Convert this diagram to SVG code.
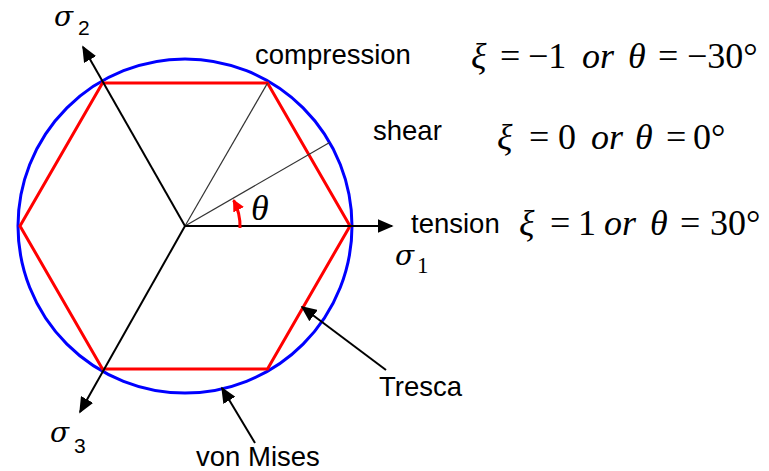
<svg xmlns="http://www.w3.org/2000/svg" width="769" height="471" viewBox="0 0 769 471">
<style>
.lbl{font-family:"Liberation Sans",Arial,sans-serif;font-size:27.5px;fill:#000}
.m{font-family:"Liberation Serif","Times New Roman",serif;font-size:36px;fill:#000}
.i{font-style:italic}
.sig{font-family:"DejaVu Serif","Liberation Serif",serif;font-style:italic;font-size:28px;fill:#000}
.sub{font-family:"Liberation Sans",Arial,sans-serif;font-size:21px;fill:#000}
.subs{font-family:"Liberation Serif","Times New Roman",serif;font-size:23px;fill:#000}
.axis{stroke:#000;stroke-width:2;fill:none}
.thin{stroke:#333;stroke-width:1.2;fill:none}
</style>
<defs>
<marker id="ahb" viewBox="0 0 10 10" refX="9" refY="5" markerWidth="16" markerHeight="14" markerUnits="userSpaceOnUse" orient="auto" preserveAspectRatio="none">
<path d="M0,0 L10,5 L0,10 z" fill="#000"/>
</marker>
<marker id="ahr" viewBox="0 0 10 10" refX="9" refY="5" markerWidth="12" markerHeight="12" markerUnits="userSpaceOnUse" orient="auto">
<path d="M0,0 L10,5 L0,10 z" fill="#f00"/>
</marker>
</defs>
<g id="vonmises"><circle cx="185" cy="226" r="167" fill="none" stroke="#0000ff" stroke-width="3"/></g>
<g id="tresca"><polygon points="350,226 267.5,83.1 102.5,83.1 20,226 102.5,368.9 267.5,368.9" fill="none" stroke="#ff0000" stroke-width="3"/></g>
<g id="guides">
<line class="thin" x1="185" y1="226" x2="267.5" y2="83.1"/>
<line class="thin" x1="185" y1="226" x2="329.6" y2="142.5"/>
</g>
<g id="connectors">
<line class="axis" x1="185" y1="226" x2="392" y2="226" marker-end="url(#ahb)"/>
<line class="axis" x1="185" y1="226" x2="83" y2="47" marker-end="url(#ahb)"/>
<line class="axis" x1="185" y1="226" x2="80" y2="412" marker-end="url(#ahb)"/>
<line class="axis" x1="386" y1="370" x2="302" y2="307" stroke-width="1.8" marker-end="url(#ahb)"/>
<line class="axis" x1="255" y1="443" x2="222" y2="388" stroke-width="1.8" marker-end="url(#ahb)"/>
<path d="M240,228 A55,55 0 0 0 233.6,200.2" fill="none" stroke="#f00" stroke-width="3" marker-end="url(#ahr)"/>
</g>
<g id="theta-label"><text class="m i" x="251" y="220">θ</text></g>
<g id="sigma2"><text class="sig" x="54" y="26">σ</text><text class="sub" x="78" y="35">2</text></g>
<g id="sigma1"><text class="sig" x="395" y="265">σ</text><text class="subs" x="417" y="273">1</text></g>
<g id="sigma3"><text class="sig" x="50" y="442">σ</text><text class="sub" x="74" y="453">3</text></g>
<g id="compression"><text class="lbl" x="255" y="64">compression</text></g>
<g id="shear"><text class="lbl" x="373" y="140">shear</text></g>
<g id="tension"><text class="lbl" x="411" y="233">tension</text></g>
<g id="tresca-label"><text class="lbl" x="379" y="396">Tresca</text></g>
<g id="vonmises-label"><text class="lbl" x="196" y="466">von Mises</text></g>
<g id="eq-compression">
<text class="m i" x="471" y="68">ξ</text>
<text class="m" x="500" y="68">=</text>
<text class="m" x="528" y="68">−1</text>
<text class="m i" x="582" y="68">or</text>
<text class="m i" x="628" y="68">θ</text>
<text class="m" x="658" y="68">=</text>
<text class="m" x="687" y="68">−30°</text>
</g>
<g id="eq-shear">
<text class="m i" x="497" y="149">ξ</text>
<text class="m" x="529" y="149">=</text>
<text class="m" x="558" y="149">0</text>
<text class="m i" x="591" y="149">or</text>
<text class="m i" x="635" y="149">θ</text>
<text class="m" x="666" y="149">=</text>
<text class="m" x="693" y="149">0°</text>
</g>
<g id="eq-tension">
<text class="m i" x="519" y="235">ξ</text>
<text class="m" x="550" y="235">=</text>
<text class="m" x="578" y="235">1</text>
<text class="m i" x="604" y="235">or</text>
<text class="m i" x="650" y="235">θ</text>
<text class="m" x="680" y="235">=</text>
<text class="m" x="710" y="235">30°</text>
</g>
</svg>
